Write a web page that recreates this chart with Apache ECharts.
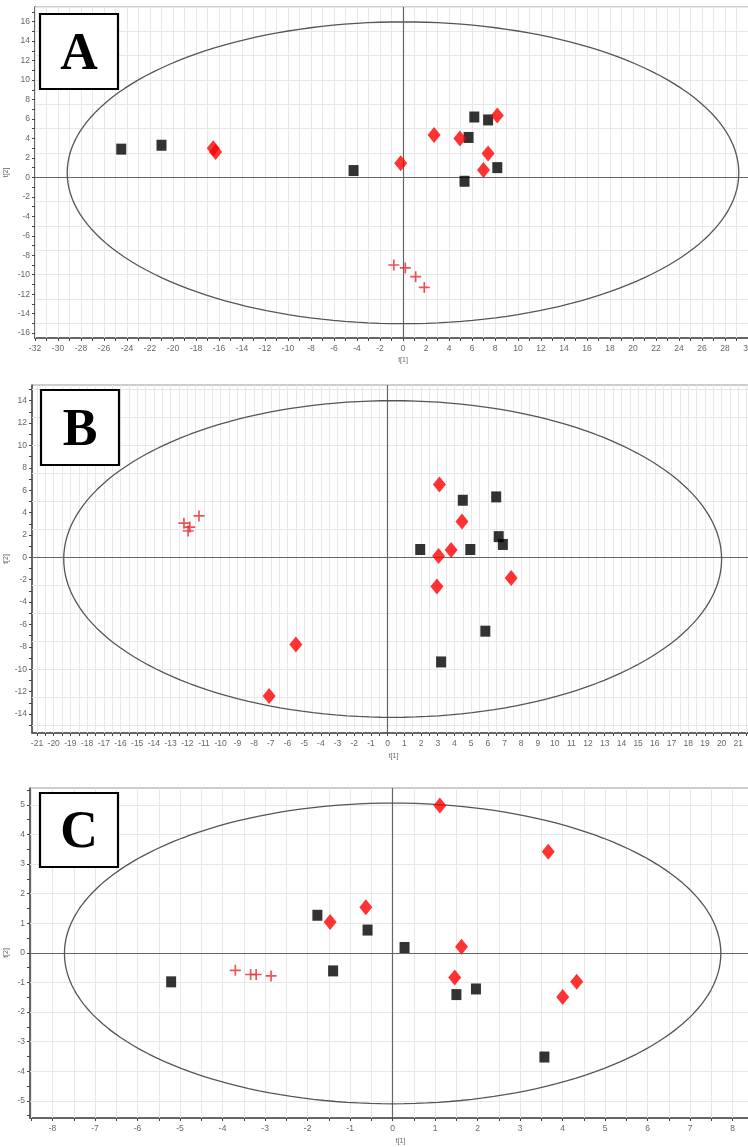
<!DOCTYPE html>
<html><head><meta charset="utf-8">
<script src="https://cdn.jsdelivr.net/npm/echarts@6/dist/echarts.min.js"></script>
<style>html,body{margin:0;padding:0;background:#fff;overflow:hidden}#c{width:748px;height:1147px}</style>
</head><body><div id="c"></div>
<script>
// ---------- DATA (t[1], t[2]) ----------
// Panel A
const aSquares  = [[-24.5,2.9],[-21.0,3.3],[-4.3,0.7],[5.7,4.1],[6.2,6.2],[7.4,5.9],[5.35,-0.4],[8.2,1.0]];
const aDiamonds = [[-16.5,3.0],[-16.3,2.6],[-0.2,1.45],[2.7,4.35],[4.95,4.0],[8.2,6.35],[7.4,2.45],[7.0,0.75]];
const aPlus     = [[-0.8,-9.0],[0.2,-9.3],[1.1,-10.2],[1.85,-11.3]];
const aEllipse  = [0.0, 0.47, 29.2, 15.5]; // centre t1, centre t2, half-width, half-height
const aXLabels  = [-32,-30,-28,-26,-24,-22,-20,-18,-16,-14,-12,-10,-8,-6,-4,-2,0,2,4,6,8,10,12,14,16,18,20,22,24,26,28,30];
const aYLabels  = [-16,-14,-12,-10,-8,-6,-4,-2,0,2,4,6,8,10,12,14,16];
// Panel B
const bSquares  = [[4.5,5.1],[6.5,5.4],[1.95,0.7],[4.95,0.7],[6.65,1.85],[6.9,1.15],[5.85,-6.6],[3.2,-9.35]];
const bDiamonds = [[3.1,6.5],[4.45,3.2],[3.8,0.65],[3.05,0.12],[2.95,-2.6],[7.4,-1.85],[-5.5,-7.8],[-7.1,-12.4]];
const bPlus     = [[-12.2,3.05],[-11.85,2.7],[-11.95,2.35],[-11.3,3.7]];
const bEllipse  = [0.3, -0.15, 19.7, 14.15];
const bXLabels  = [-21,-20,-19,-18,-17,-16,-15,-14,-13,-12,-11,-10,-9,-8,-7,-6,-5,-4,-3,-2,-1,0,1,2,3,4,5,6,7,8,9,10,11,12,13,14,15,16,17,18,19,20,21];
const bYLabels  = [-14,-12,-10,-8,-6,-4,-2,0,2,4,6,8,10,12,14];
// Panel C
const cSquares  = [[-1.77,1.27],[-0.59,0.77],[0.28,0.18],[-5.21,-0.98],[-1.4,-0.61],[1.5,-1.41],[1.96,-1.22],[3.57,-3.52]];
const cDiamonds = [[1.11,4.98],[3.66,3.42],[-1.47,1.04],[-0.63,1.54],[1.62,0.21],[1.46,-0.83],[4.0,-1.49],[4.33,-0.98]];
const cPlus     = [[-3.7,-0.59],[-3.34,-0.73],[-3.21,-0.73],[-2.86,-0.78]];
const cEllipse  = [0.0, -0.02, 7.72, 5.08];
const cXLabels  = [-8,-7,-6,-5,-4,-3,-2,-1,0,1,2,3,4,5,6,7,8];
const cYLabels  = [-5,-4,-3,-2,-1,0,1,2,3,4,5];
// ---------------------------------------

function steps(a,b,s){const r=[];const st=Math.ceil(a/s-1e-9);for(let k=st;k*s<=b+1e-9;k++)r.push(Math.round(k*s*1000)/1000);return r;}
function ellipsePts(e){const p=[];for(let i=0;i<=360;i+=2){const t=i*Math.PI/180;p.push([e[0]+e[2]*Math.cos(t),e[1]+e[3]*Math.sin(t)]);}return p;}

const panels = [
  {name:'A', grid:{left:35,top:7,width:736,height:331}, x:[-32,32], y:[-16.5,17.5], xL:aXLabels, yL:aYLabels, xT:1, yT:1, vG:1, hG:2.5,
   sq:aSquares, di:aDiamonds, pl:aPlus, el:aEllipse, xGap:19, yGap:25, box:[40,14,78,75]},
  {name:'B', grid:{left:32,top:385,width:723,height:348}, x:[-21.3,22], y:[-15.7,15.4], xL:bXLabels, yL:bYLabels, xT:0.5, yT:1, vG:0.5, hG:2.5,
   sq:bSquares, di:bDiamonds, pl:bPlus, el:bEllipse, xGap:20, yGap:22, box:[41,390,78,75]},
  {name:'C', grid:{left:30,top:788,width:741,height:330}, x:[-8.53,8.9], y:[-5.58,5.57], xL:cXLabels, yL:cYLabels, xT:0.5, yT:0.5, vG:0.5, hG:1,
   sq:cSquares, di:cDiamonds, pl:cPlus, el:cEllipse, xGap:20, yGap:20, box:[40,793,78,74]}
];

const PLUS = 'path://M4.25,0H5.75V4.25H10V5.75H5.75V10H4.25V5.75H0V4.25H4.25Z';
const grids=[], xAxes=[], yAxes=[], series=[], graphics=[];
const labelStyle = {fontSize:8.5, color:'#666', fontFamily:'Liberation Sans'};
panels.forEach((p,i)=>{
  grids.push(Object.assign({show:true, borderColor:'#9a9a9a', borderWidth:1, backgroundColor:'transparent',
    containLabel:false, outerBoundsMode:'none'}, p.grid));
  xAxes.push({gridIndex:i, type:'value', min:p.x[0], max:p.x[1],
    axisLine:{show:true,onZero:false,lineStyle:{color:'#444',width:1.5}},
    axisTick:{show:true,customValues:steps(p.x[0],p.x[1],p.xT),length:3,lineStyle:{color:'#444'}},
    axisLabel:Object.assign({customValues:p.xL,margin:6,formatter:v=>String(v),hideOverlap:false},labelStyle),
    splitLine:{show:false},
    name:'t[1]', nameLocation:'middle', nameGap:p.xGap, nameMoveOverlap:false, nameTextStyle:{fontSize:7,color:'#666'}});
  yAxes.push({gridIndex:i, type:'value', min:p.y[0], max:p.y[1],
    axisLine:{show:true,onZero:false,lineStyle:{color:'#444',width:1.5}},
    axisTick:{show:true,customValues:steps(p.y[0],p.y[1],p.yT),length:3,lineStyle:{color:'#444'}},
    axisLabel:Object.assign({customValues:p.yL,margin:5,formatter:v=>String(v),hideOverlap:false},labelStyle),
    splitLine:{show:false},
    name:'t[2]', nameLocation:'middle', nameGap:p.yGap, nameMoveOverlap:false, nameTextStyle:{fontSize:7,color:'#666'}});
  const gl=[];
  steps(p.x[0],p.x[1],p.vG).forEach(v=>{if(v!==0)gl.push({xAxis:v});});
  steps(p.y[0],p.y[1],p.hG).forEach(v=>{if(v!==0)gl.push({yAxis:v});});
  series.push({type:'scatter', xAxisIndex:i, yAxisIndex:i, data:[], z:1, silent:true,
    markLine:{z:1, silent:true, symbol:['none','none'], label:{show:false}, animation:false,
      lineStyle:{color:'#e8e8e8', width:1, type:'solid'}, data:gl}});
  series.push({type:'scatter', xAxisIndex:i, yAxisIndex:i, data:[], z:2, silent:true,
    markLine:{z:2, silent:true, symbol:['none','none'], label:{show:false}, animation:false,
      lineStyle:{color:'#666', width:1.2, type:'solid'}, data:[{xAxis:0},{yAxis:0}]}});
  series.push({type:'line', xAxisIndex:i, yAxisIndex:i, data:ellipsePts(p.el), showSymbol:false, symbol:'none', smooth:false, z:3, silent:true,
    lineStyle:{color:'#555', width:1.3}});
  series.push({type:'scatter', xAxisIndex:i, yAxisIndex:i, data:p.sq, symbol:'rect', symbolSize:[10,11], z:5,
    itemStyle:{color:'#000'}});
  series.push({type:'scatter', xAxisIndex:i, yAxisIndex:i, data:p.di, symbol:'diamond', symbolSize:[13,16], z:6,
    itemStyle:{color:'#ff0000'}});
  series.push({type:'scatter', xAxisIndex:i, yAxisIndex:i, data:p.pl, symbol:PLUS, symbolSize:[11,11], z:6,
    itemStyle:{color:'#e8262a'}});
  const b=p.box;
  graphics.push({type:'rect', z:100, shape:{x:b[0],y:b[1],width:b[2],height:b[3]}, style:{fill:'#fff',stroke:'#000',lineWidth:2.2}});
  graphics.push({type:'text', z:101, x:b[0]+b[2]/2, y:b[1]+b[3]/2+4,
    style:{text:p.name, font:'bold 52px "Liberation Serif"', fill:'#000', align:'center', verticalAlign:'middle'}});
});

const chart = echarts.init(document.getElementById('c'), null, {renderer:'canvas'});
chart.setOption({animation:false, backgroundColor:'#fff', grid:grids, xAxis:xAxes, yAxis:yAxes, series:series, graphic:graphics});
</script></body></html>
